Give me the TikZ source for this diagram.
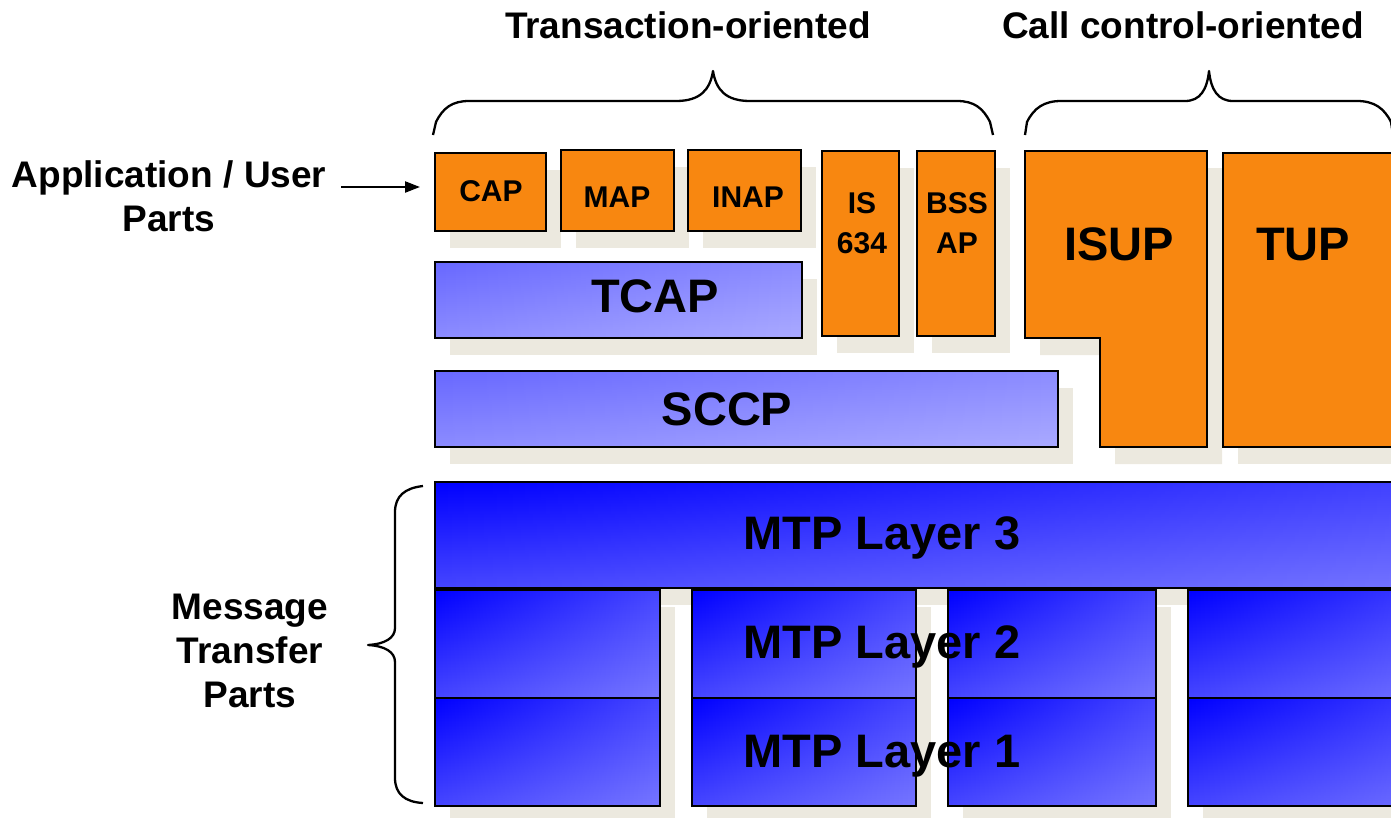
\documentclass[tikz,border=0pt]{standalone}
\usepackage{fontspec}
\setmainfont{Liberation Sans}
\usetikzlibrary{fit,shadows,arrows.meta,fadings}

\definecolor{ss7orange}{RGB}{248,135,16}
\definecolor{shadowgray}{RGB}{236,233,223}
\definecolor{paleblueA}{RGB}{104,104,255}
\definecolor{paleblueM}{RGB}{140,140,255}
\definecolor{paleblueB}{RGB}{170,170,255}
\definecolor{deepblueA}{RGB}{0,0,255}
\definecolor{deepblueM}{RGB}{70,70,255}
\definecolor{deepblueB}{RGB}{118,118,255}

% transparent on the left, opaque on the right
\tikzfading[name=rightin, left color=transparent!100, right color=transparent!0]

\tikzset{
  boxshadow/.style={drop shadow={shadow xshift=15pt, shadow yshift=-17pt,
                                 fill=shadowgray, opacity=1}},
  block/.style={inner sep=0pt, outer sep=0pt, draw=black, line width=2.4pt, boxshadow},
  obox/.style={block, fill=ss7orange},
  % diagonal gradient: two vertical shadings blended left to right
  diagshade/.style n args={3}{top color=#1, bottom color=#2,
      postaction={top color=#2, bottom color=#3, path fading=rightin},
      postaction={draw=black}},
  tbox/.style={block, diagshade={paleblueA}{paleblueM}{paleblueB}},
  mbox/.style={block, line width=2pt, diagshade={deepblueA}{deepblueM}{deepblueB}},
  lbl/.style={inner sep=0pt, align=center, font=\bfseries\fontsize{37}{44}\selectfont},
  smalltxt/.style={inner sep=0pt, align=center, font=\bfseries\fontsize{30}{40}\selectfont},
  bigtxt/.style={inner sep=0pt, text depth=0pt, font=\bfseries\fontsize{47}{52}\selectfont},
  bracepath/.style={draw=black, line width=2.3pt, line join=round},
  pointer/.style={draw=black, line width=2.3pt, -{Triangle[length=15pt,width=11pt]}}
}

\begin{document}
\begin{tikzpicture}[x=1pt,y=-1pt]
\useasboundingbox (0,0) rectangle (1391,817);
\clip (0,0) rectangle (1391,817);

% group headings
\node[lbl] (trans) at (688,25) {Transaction-oriented};
\node[lbl] (call) at (1183,25) {Call control-oriented};

% curly braces over the two groups of user parts
\draw[bracepath] (433,135) -- (436,122)
  .. controls (443,108) and (452,101) .. (469,101) -- (676,101)
  .. controls (700,101) and (710,90) .. (713,71)
  .. controls (716,90) and (726,101) .. (750,101) -- (957,101)
  .. controls (974,101) and (983,108) .. (990,122) -- (993,135);
\draw[bracepath] (1025,135) -- (1027,122)
  .. controls (1034,108) and (1044,101) .. (1061,101) -- (1185,101)
  .. controls (1200,101) and (1207,90) .. (1209,71)
  .. controls (1211,90) and (1218,101) .. (1233,101) -- (1357,101)
  .. controls (1374,101) and (1384,108) .. (1391,122) -- (1393,135);

% application / user parts
\node[obox, fit={(435,153) (546,231)}] (cap) {};
\node[obox, fit={(561,150) (674,231)}] (map) {};
\node[obox, fit={(688,150) (801,231)}] (inap) {};
\node[obox, fit={(822,151) (899,336)}] (is634) {};
\node[obox, fit={(917,151) (995,336)}] (bssap) {};

% transaction capabilities and signalling connection control
\node[tbox, fit={(435,262) (802,338)}] (tcap) {};
\node[tbox, fit={(435,371) (1058,447)}] (sccp) {};

% call control user parts
\draw[obox] (1025,151) -- (1207,151) -- (1207,447) -- (1100,447)
  -- (1100,338) -- (1025,338) -- cycle;
\node[obox, fit={(1223,153) (1470,447)}] (tup) {};

% message transfer part
\node[mbox, fit={(435,482) (1470,588)}] (mtp3) {};
\node[mbox, fit={(435,590) (660,698)}] (mtp2a) {};
\node[mbox, fit={(692,590) (916,698)}] (mtp2b) {};
\node[mbox, fit={(948,590) (1156,698)}] (mtp2c) {};
\node[mbox, fit={(1188,590) (1470,698)}] (mtp2d) {};
\node[mbox, fit={(435,698) (660,806)}] (mtp1a) {};
\node[mbox, fit={(692,698) (916,806)}] (mtp1b) {};
\node[mbox, fit={(948,698) (1156,806)}] (mtp1c) {};
\node[mbox, fit={(1188,698) (1470,806)}] (mtp1d) {};

% box captions
\node[smalltxt] (capT) at (491,191) {CAP};
\node[smalltxt] (mapT) at (617,197) {MAP};
\node[smalltxt] (inapT) at (748,197) {INAP};
\node[smalltxt] (isT) at (862,223) {IS\\634};
\node[smalltxt] (bssT) at (957,223) {BSS\\AP};
\node[bigtxt] (tcapT) at (655,296) {TCAP};
\node[bigtxt] (sccpT) at (727,409) {SCCP};
\node[bigtxt] (isupT) at (1119,244) {ISUP};
\node[bigtxt] (tupT) at (1303,244) {TUP};
\node[bigtxt] (mtp3T) at (882,533) {MTP Layer 3};
\node[bigtxt] (mtp2T) at (882,642) {MTP Layer 2};
\node[bigtxt] (mtp1T) at (882,751) {MTP Layer 1};

% side labels
\node[lbl] (app) at (169,196.5) {Application / User\\Parts};
\path ([yshift=5pt]cap.west) ++(-15,0) coordinate (arrowtip);
\draw[pointer] (app.east |- arrowtip) ++(15,0) -- (arrowtip);

\node[lbl] (mtp) at (250,651) {Message\\Transfer\\Parts};
\draw[bracepath] (423,486) .. controls (405,488) and (395,496) .. (395,512)
  -- (395,628) .. controls (395,638) and (385,644) .. (368,645)
  .. controls (385,646) and (395,652) .. (395,662)
  -- (395,778) .. controls (395,794) and (405,802) .. (423,803);
\end{tikzpicture}
\end{document}
